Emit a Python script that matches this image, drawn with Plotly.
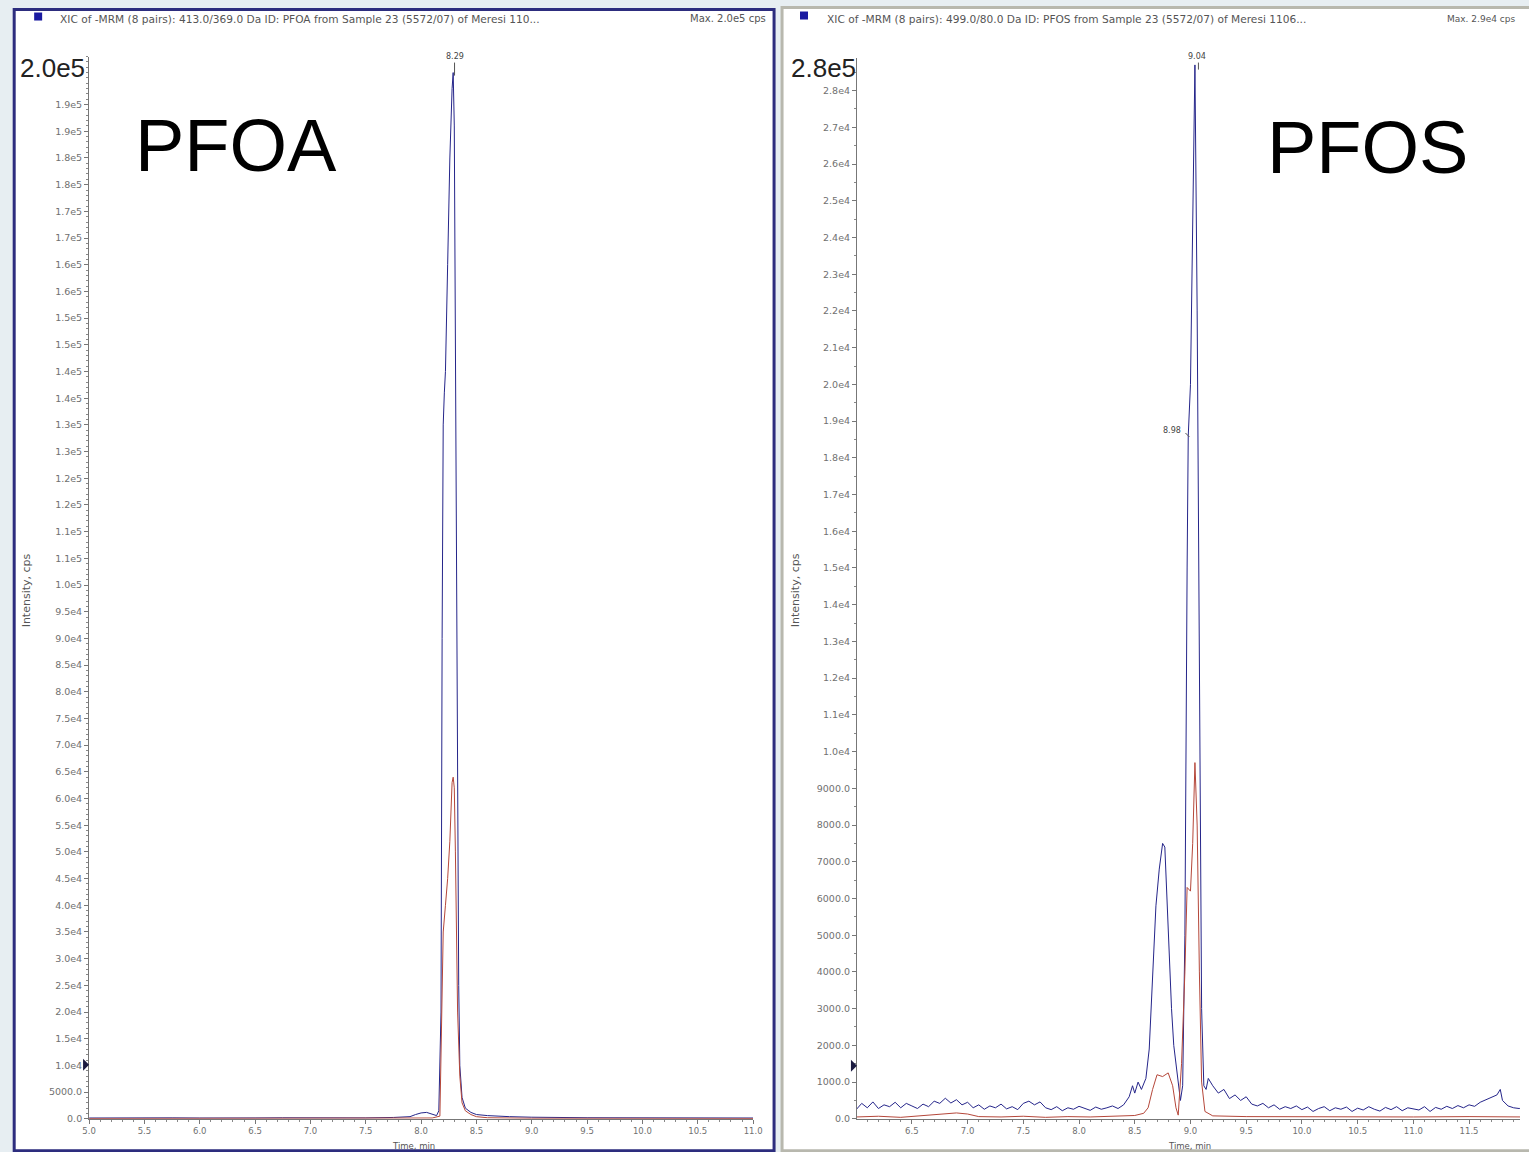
import plotly.graph_objects as go

# ---------------- data ----------------
# PFOA (left panel)
pfoa_blue_t = [5.0, 5.25, 5.5, 5.75, 6.0, 6.25, 6.5, 6.75, 7.0, 7.25, 7.5, 7.75, 7.9, 7.95, 8.0, 8.05, 8.1,
               8.14, 8.16, 8.18, 8.19, 8.2, 8.21, 8.22, 8.24, 8.26, 8.28, 8.29, 8.3, 8.31, 8.32, 8.33,
               8.34, 8.35, 8.37, 8.4, 8.45, 8.5, 8.6, 8.8, 9.0, 9.5, 10.0, 10.5, 11.0]
pfoa_blue_y = [150, 200, 120, 180, 150, 220, 160, 190, 140, 200, 170, 250, 400, 800, 1100, 1200, 900,
               600, 1500, 20000, 90000, 130000, 136000, 140000, 160000, 180000, 193000, 196000, 186000, 150000, 100000, 55000,
               25000, 10000, 4000, 2000, 1200, 800, 600, 400, 300, 200, 180, 160, 150]

pfoa_red_t = [5.0, 5.5, 6.0, 6.5, 7.0, 7.5, 8.0, 8.1, 8.17, 8.19, 8.2, 8.22, 8.24, 8.26, 8.28, 8.29,
              8.3, 8.31, 8.32, 8.33, 8.35, 8.37, 8.4, 8.45, 8.5, 8.6, 9.0, 10.0, 11.0]
pfoa_red_y = [60, 80, 50, 70, 60, 80, 100, 150, 500, 20000, 35000, 40000, 45000, 52000, 63000, 64000,
              62000, 50000, 35000, 20000, 8000, 3000, 1500, 800, 400, 200, 100, 80, 60]

# PFOS (right panel)
pfos_blue_t = [6.0, 6.05, 6.1, 6.15, 6.2, 6.25, 6.3, 6.35, 6.4, 6.45, 6.5, 6.55, 6.6, 6.65, 6.7, 6.75,
               6.8, 6.85, 6.9, 6.95, 7.0, 7.05, 7.1, 7.15, 7.2, 7.25, 7.3, 7.35, 7.4, 7.45, 7.5, 7.55,
               7.6, 7.65, 7.7, 7.75, 7.8, 7.85, 7.9, 7.95, 8.0, 8.05, 8.1, 8.15, 8.2, 8.25, 8.3, 8.35,
               8.4, 8.45, 8.48, 8.5, 8.53, 8.56, 8.6, 8.63, 8.66, 8.69, 8.72, 8.75, 8.77, 8.79,
               8.81, 8.83, 8.85, 8.87, 8.89, 8.91, 8.93, 8.95, 8.97, 8.98, 9.0, 9.02, 9.04, 9.06,
               9.08, 9.1, 9.12, 9.14, 9.16, 9.2, 9.25, 9.3, 9.35, 9.4, 9.45, 9.5, 9.55, 9.6, 9.65,
               9.7, 9.75, 9.8, 9.85, 9.9, 9.95, 10.0, 10.05, 10.1, 10.15, 10.2, 10.25, 10.3, 10.35,
               10.4, 10.45, 10.5, 10.55, 10.6, 10.65, 10.7, 10.75, 10.8, 10.85, 10.9, 10.95, 11.0,
               11.05, 11.1, 11.15, 11.2, 11.25, 11.3, 11.35, 11.4, 11.45, 11.5, 11.55, 11.6, 11.65,
               11.7, 11.75, 11.78, 11.8, 11.85, 11.9, 11.95, 12.0]
pfos_blue_y = [250, 420, 300, 460, 280, 380, 330, 450, 300, 420, 350, 280, 400, 330, 480, 420,
               560, 430, 520, 380, 450, 300, 380, 260, 350, 300, 400, 270, 330, 250, 420, 480,
               380, 460, 300, 250, 330, 220, 300, 260, 340, 280, 230, 320, 260, 300, 350, 280,
               380, 600, 900, 700, 1000, 800, 1100, 1900, 3800, 5800, 6800, 7500, 7400, 6000,
               4200, 3000, 2000, 1500, 1000, 500, 900, 5000, 15000, 18600, 20000, 25000, 28700, 22000,
               12000, 3000, 900, 800, 1100, 900, 700, 800, 550, 650, 500, 600, 400, 350, 420,
               300, 380, 260, 330, 280, 350, 250, 320, 200, 280, 330, 220, 300, 260,
               320, 200, 290, 240, 330, 260, 210, 310, 250, 330, 220, 300, 280,
               240, 330, 200, 310, 260, 340, 280, 360, 300, 380, 340, 450, 520,
               600, 650, 800, 500, 350, 300, 280, 320]

pfos_red_t = [6.0, 6.2, 6.4, 6.6, 6.8, 6.9, 7.0, 7.1, 7.3, 7.5, 7.7, 7.9, 8.1, 8.3, 8.5, 8.58,
              8.62, 8.66, 8.7, 8.75, 8.8, 8.84, 8.87, 8.89, 8.92, 8.95, 8.97, 9.0, 9.02, 9.04,
              9.06, 9.08, 9.1, 9.13, 9.2, 9.5, 10.0, 10.5, 11.0, 11.5, 12.0]
pfos_red_y = [50, 70, 40, 80, 120, 160, 130, 60, 50, 70, 40, 60, 50, 70, 90, 150,
              300, 800, 1200, 1150, 1250, 900, 300, 100, 1500, 4000, 6300, 6200, 7500, 9700,
              8000, 4000, 1000, 200, 80, 60, 50, 40, 50, 60, 50]

# axis ticks
left_yvals = [0, 5000, 10000, 15000, 20000, 25000, 30000, 35000, 40000, 45000, 50000, 55000, 60000,
              65000, 70000, 75000, 80000, 85000, 90000, 95000, 100000, 105000, 110000, 115000, 120000,
              125000, 130000, 135000, 140000, 145000, 150000, 155000, 160000, 165000, 170000, 175000,
              180000, 185000, 190000]
left_ytext = ["0.0", "5000.0", "1.0e4", "1.5e4", "2.0e4", "2.5e4", "3.0e4", "3.5e4", "4.0e4", "4.5e4",
              "5.0e4", "5.5e4", "6.0e4", "6.5e4", "7.0e4", "7.5e4", "8.0e4", "8.5e4", "9.0e4", "9.5e4",
              "1.0e5", "1.1e5", "1.1e5", "1.2e5", "1.2e5", "1.3e5", "1.3e5", "1.4e5", "1.4e5", "1.5e5",
              "1.5e5", "1.6e5", "1.6e5", "1.7e5", "1.7e5", "1.8e5", "1.8e5", "1.9e5", "1.9e5"]
right_yvals = [0, 1000, 2000, 3000, 4000, 5000, 6000, 7000, 8000, 9000, 10000, 11000, 12000, 13000,
               14000, 15000, 16000, 17000, 18000, 19000, 20000, 21000, 22000, 23000, 24000, 25000,
               26000, 27000, 28000]
right_ytext = ["0.0", "1000.0", "2000.0", "3000.0", "4000.0", "5000.0", "6000.0", "7000.0", "8000.0",
               "9000.0", "1.0e4", "1.1e4", "1.2e4", "1.3e4", "1.4e4", "1.5e4", "1.6e4", "1.7e4", "1.8e4",
               "1.9e4", "2.0e4", "2.1e4", "2.2e4", "2.3e4", "2.4e4", "2.5e4", "2.6e4", "2.7e4", "2.8e4"]
left_xvals = [5.0, 5.5, 6.0, 6.5, 7.0, 7.5, 8.0, 8.5, 9.0, 9.5, 10.0, 10.5, 11.0]
left_xtext = ["5.0", "5.5", "6.0", "6.5", "7.0", "7.5", "8.0", "8.5", "9.0", "9.5", "10.0", "10.5", "11.0"]
right_xvals = [6.5, 7.0, 7.5, 8.0, 8.5, 9.0, 9.5, 10.0, 10.5, 11.0, 11.5]
right_xtext = ["6.5", "7.0", "7.5", "8.0", "8.5", "9.0", "9.5", "10.0", "10.5", "11.0", "11.5"]

# ---------------- figure ----------------
W, H = 1529, 1152
BLUE = "#25258a"
RED = "#b5473a"
TICKC = "#707070"
FONT = "Liberation Sans, Arial, sans-serif"
SFONT = "DejaVu Sans, sans-serif"

# picture-pixel -> paper mapping (compensates the page's rendering offset/scale)
SX, OX = 0.991, 5.8
SY, OY = 0.9945, 0.5


def px(x):
    return ((x - OX) / SX) / W


def py(y):
    return 1 - ((y - OY) / SY) / H


# right axis ends at the paper's right edge; find which picture pixel that is
right_end_px = SX * W + OX
right_x0 = 6.007
right_x1 = right_x0 + (right_end_px - 857) / 111.6

fig = go.Figure()
fig.add_trace(go.Scatter(x=pfoa_blue_t, y=pfoa_blue_y, mode="lines", line=dict(color=BLUE, width=1),
                         xaxis="x", yaxis="y", showlegend=False))
fig.add_trace(go.Scatter(x=pfoa_red_t, y=pfoa_red_y, mode="lines", line=dict(color=RED, width=1),
                         xaxis="x", yaxis="y", showlegend=False))
fig.add_trace(go.Scatter(x=pfos_blue_t, y=pfos_blue_y, mode="lines", line=dict(color=BLUE, width=1),
                         xaxis="x2", yaxis="y2", showlegend=False))
fig.add_trace(go.Scatter(x=pfos_red_t, y=pfos_red_y, mode="lines", line=dict(color=RED, width=1),
                         xaxis="x2", yaxis="y2", showlegend=False))

axis_common = dict(showgrid=False, zeroline=False, showline=True, linecolor="#777777", linewidth=1,
                   ticks="outside", ticklen=4, tickcolor="#777777", tickmode="array")
yfont = dict(family=SFONT, size=9.5, color=TICKC)
xfont = dict(family=SFONT, size=8.5, color=TICKC)

fig.update_layout(
    width=W, height=H,
    margin=dict(l=0, r=0, t=0, b=0),
    paper_bgcolor="#e7eef2",
    plot_bgcolor="rgba(0,0,0,0)",
    xaxis=dict(domain=[px(88), px(753)], range=[5.0, 11.0], anchor="y",
               tickvals=left_xvals, ticktext=left_xtext, tickfont=xfont,
               minor=dict(dtick=0.1, ticklen=2, tickcolor="#888888", ticks="outside"), **axis_common),
    yaxis=dict(domain=[py(1118), py(57)], range=[0, 199000], anchor="x",
               tickvals=left_yvals, ticktext=left_ytext, tickfont=yfont,
               minor=dict(dtick=1000, ticklen=2, tickcolor="#888888", ticks="outside"), **axis_common),
    xaxis2=dict(domain=[px(857), 1.0], range=[right_x0, right_x1], anchor="y2",
                tickvals=right_xvals, ticktext=right_xtext, tickfont=xfont,
                minor=dict(dtick=0.1, ticklen=2, tickcolor="#888888", ticks="outside"), **axis_common),
    yaxis2=dict(domain=[py(1118), py(58)], range=[0, 28900], anchor="x2",
                tickvals=right_yvals, ticktext=right_ytext, tickfont=yfont,
                minor=dict(dtick=500, ticklen=2, tickcolor="#888888", ticks="outside"), **axis_common),
)

shapes = []
# panels
shapes.append(dict(type="rect", xref="paper", yref="paper", x0=px(13), x1=px(774), y0=py(1150), y1=py(10),
                   fillcolor="white", line=dict(color="#2d2d7e", width=3), layer="below"))
shapes.append(dict(type="rect", xref="paper", yref="paper", x0=px(782), x1=px(1545), y0=py(1150), y1=py(8),
                   fillcolor="white", line=dict(color="#b8b8ae", width=3), layer="below"))
# blue header squares
shapes.append(dict(type="rect", xref="paper", yref="paper", x0=px(33), x1=px(41), y0=py(21), y1=py(13),
                   fillcolor="#1a1aa0", line=dict(width=0)))
shapes.append(dict(type="rect", xref="paper", yref="paper", x0=px(800), x1=px(808), y0=py(20), y1=py(12),
                   fillcolor="#1a1aa0", line=dict(width=0)))
# peak label leader lines
shapes.append(dict(type="line", xref="paper", yref="paper", x0=px(454), x1=px(454), y0=py(63), y1=py(76),
                   line=dict(color="#555555", width=1)))
shapes.append(dict(type="line", xref="paper", yref="paper", x0=px(1199), x1=px(1199), y0=py(63), y1=py(70),
                   line=dict(color="#555555", width=1)))
shapes.append(dict(type="line", xref="paper", yref="paper", x0=px(1186), x1=px(1190), y0=py(433), y1=py(437),
                   line=dict(color="#555555", width=1)))
# level markers (triangles)
shapes.append(dict(type="path", xref="paper", yref="paper",
                   path=f"M {px(82)},{py(1058)} L {px(88)},{py(1064)} L {px(82)},{py(1070)} Z",
                   fillcolor="#1a1a40", line=dict(width=0)))
shapes.append(dict(type="path", xref="paper", yref="paper",
                   path=f"M {px(851)},{py(1059)} L {px(857)},{py(1065)} L {px(851)},{py(1071)} Z",
                   fillcolor="#1a1a40", line=dict(width=0)))
fig.update_layout(shapes=shapes)

ann = []


def add_text(text, x, y, size, color="#333333", xanchor="center", yanchor="middle", angle=0, family=FONT):
    ann.append(dict(text=text, x=px(x), y=py(y), xref="paper", yref="paper", showarrow=False,
                    xanchor=xanchor, yanchor=yanchor, textangle=angle,
                    font=dict(family=family, size=size, color=color)))


add_text("XIC of -MRM (8 pairs): 413.0/369.0 Da ID: PFOA from Sample 23 (5572/07) of Meresi 110...",
         57, 19, 10.6, "#555555", xanchor="left", family=SFONT)
add_text("Max. 2.0e5 cps", 768, 19, 10, "#555555", xanchor="right", family=SFONT)
add_text("XIC of -MRM (8 pairs): 499.0/80.0 Da ID: PFOS from Sample 23 (5572/07) of Meresi 1106...",
         825, 19, 10.6, "#555555", xanchor="left", family=SFONT)
add_text("Max. 2.9e4 cps", right_end_px - 3, 19, 9, "#555555", xanchor="right", family=SFONT)
add_text("2.0e5", 17, 68, 26, "#222222", xanchor="left")
add_text("2.8e5", 789, 68, 26, "#222222", xanchor="left")
add_text("PFOA", 235, 146, 74, "#000000")
add_text("PFOS", 1368, 148, 74, "#000000")
add_text("8.29", 454, 57, 8, "#444444", family=SFONT)
add_text("9.04", 1198, 57, 8, "#444444", family=SFONT)
add_text("8.98", 1173, 430, 8, "#444444", family=SFONT)
add_text("Intensity, cps", 25, 590, 11, "#555555", angle=-90, family=SFONT)
add_text("Intensity, cps", 795, 590, 11, "#555555", angle=-90, family=SFONT)
add_text("Time, min", 413, 1145, 8.5, "#555555", family=SFONT)
add_text("Time, min", 1190, 1145, 8.5, "#555555", family=SFONT)
fig.update_layout(annotations=ann)

fig.write_html("out.html", config={"displayModeBar": False},
               post_script="document.body.style.margin='0';document.body.style.padding='0';"
                           "document.documentElement.style.overflow='hidden';")
